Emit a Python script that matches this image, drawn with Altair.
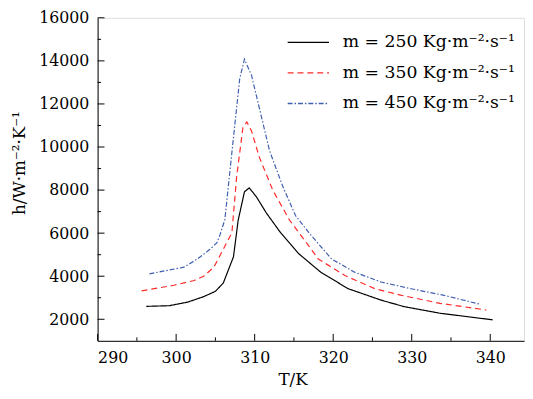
import altair as alt
import pandas as pd

labels = ["m = 250 Kg·m⁻²·s⁻¹", "m = 350 Kg·m⁻²·s⁻¹", "m = 450 Kg·m⁻²·s⁻¹"]
colors = ["#000000", "#ff2a2a", "#3f5fb0"]
dashes = [[1, 0], [6, 4], [5, 2, 1.5, 2]]

t250 = [296.2, 299.1, 301.5, 303.5, 305.0, 306.0, 307.3, 307.9, 308.7, 309.3, 310.2, 311.5,
        313.3, 315.6, 318.4, 321.9, 326.1, 329.0, 333.6, 340.3]
h250 = [2600, 2630, 2800, 3050, 3300, 3680, 4900, 6600, 7920, 8100, 7700, 6930,
        6020, 5050, 4190, 3420, 2890, 2590, 2280, 1975]

t350 = [295.6, 299.7, 302.3, 303.5, 304.8, 306.0, 307.1, 307.7, 308.5, 309.0, 309.6, 310.6,
        312.3, 314.4, 316.9, 318.1, 321.5, 325.3, 328.6, 333.6, 339.5]
h350 = [3320, 3580, 3800, 4000, 4420, 5250, 6020, 8600, 10890, 11170, 10740, 9520,
        8000, 6630, 5400, 4800, 4030, 3420, 3120, 2740, 2430]

t450 = [296.6, 301.0, 302.7, 303.5, 304.3, 305.2, 305.6, 306.2, 306.9, 308.1, 308.7, 309.6,
        310.6, 311.9, 313.6, 315.2, 316.9, 319.8, 322.7, 326.1, 329.9, 334.0, 338.8]
h450 = [4110, 4420, 4800, 5020, 5250, 5560, 5940, 6620, 9060, 13180, 14080, 13330,
        11800, 9820, 8150, 6820, 6020, 4800, 4190, 3730, 3420, 3120, 2690]

x_major = [290, 300, 310, 320, 330, 340]
x_minor = [295, 305, 315, 325, 335]
y_major = [2000, 4000, 6000, 8000, 10000, 12000, 14000, 16000]
y_minor = [3000, 5000, 7000, 9000, 11000, 13000, 15000]

rows = []
for lab, ts, hs in zip(labels, [t250, t350, t450], [h250, h350, h450]):
    for i, (t, h) in enumerate(zip(ts, hs)):
        rows.append({"T": t, "h": h, "series": lab, "order": i})
df = pd.DataFrame(rows)

W, H = 433, 328
FONT = "DejaVu Serif"
xs = alt.Scale(domain=[290, 344.3], nice=False, zero=False)
ys = alt.Scale(domain=[1000, 16000], nice=False, zero=False)

lines = alt.Chart(df).mark_line(strokeWidth=1.2).encode(
    x=alt.X("T:Q", scale=xs, axis=alt.Axis(
        values=x_major, format="d", ticks=False, grid=False, domainColor="black", domainWidth=1,
        labelFont=FONT, labelFontSize=16, labelColor="black", labelPadding=9,
        title="T/K", titleFont=FONT, titleFontSize=17, titleFontWeight="normal",
        titleColor="black", titleX=198, titlePadding=6)),
    y=alt.Y("h:Q", scale=ys, axis=alt.Axis(
        values=y_major, format="d", ticks=False, grid=False, domainColor="black", domainWidth=1,
        labelFont=FONT, labelFontSize=16, labelColor="black", labelPadding=9,
        title="h/W·m⁻²·K⁻¹", titleFont=FONT, titleFontSize=17, titleFontWeight="normal",
        titleColor="black", titleX=-79, titleY=147, titleAngle=-90,
        titleAlign="center", titleBaseline="middle")),
    color=alt.Color("series:N", scale=alt.Scale(domain=labels, range=colors),
                    legend=alt.Legend(title=None, orient="none", legendX=192, legendY=3,
                                      symbolType="stroke", symbolSize=1764,
                                      symbolStrokeWidth=1.3, labelFont=FONT,
                                      labelFontSize=17.5, labelColor="black",
                                      labelOffset=13, rowPadding=-15.5, labelLimit=400,
                                      padding=0)),
    strokeDash=alt.StrokeDash("series:N", scale=alt.Scale(domain=labels, range=dashes),
                              legend=None),
    order="order:Q",
)

xmaj = alt.Chart(pd.DataFrame({"v": x_major})).mark_rule(color="black", strokeWidth=1).encode(
    x=alt.X("v:Q", scale=xs), y=alt.value(H), y2=alt.value(H - 7))
xmin = alt.Chart(pd.DataFrame({"v": x_minor})).mark_rule(color="black", strokeWidth=1).encode(
    x=alt.X("v:Q", scale=xs), y=alt.value(H), y2=alt.value(H - 3.5))
ymaj = alt.Chart(pd.DataFrame({"v": y_major})).mark_rule(color="black", strokeWidth=1).encode(
    y=alt.Y("v:Q", scale=ys), x=alt.value(0), x2=alt.value(7))
ymin = alt.Chart(pd.DataFrame({"v": y_minor})).mark_rule(color="black", strokeWidth=1).encode(
    y=alt.Y("v:Q", scale=ys), x=alt.value(0), x2=alt.value(3.5))

chart = alt.layer(lines, xmaj, xmin, ymaj, ymin).properties(
    width=W, height=H,
    autosize=alt.AutoSizeParams(type="none"),
    padding={"left": 91, "top": 7, "right": 1, "bottom": 48},
).configure_view(stroke="black", strokeWidth=1).configure(background="white")

chart.save("out.html", embed_options={"renderer": "svg", "actions": False})
